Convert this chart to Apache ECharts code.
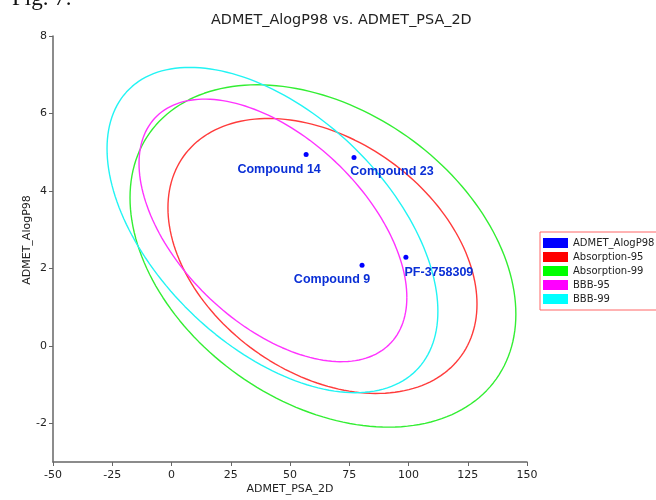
<!DOCTYPE html>
<html>
<head>
<meta charset="utf-8">
<script src="https://cdn.jsdelivr.net/npm/echarts@6/dist/echarts.min.js"></script>
<style>
  html, body { margin: 0; padding: 0; background: #fff; }
  #chart { width: 656px; height: 500px; }
</style>
</head>
<body>
<div id="chart"></div>
<script>
// compounds plotted (x = ADMET_PSA_2D, y = ADMET_AlogP98)
var compoundNames = ['Compound 14', 'Compound 23', 'Compound 9', 'PF-3758309'];
var compoundPSA = [56.8, 77.0, 80.4, 98.9];
var compoundAlogP = [4.94, 4.86, 2.08, 2.29];

// confidence ellipses: centre, half extent on each axis, correlation
var ellipseNames = ['Absorption-95', 'Absorption-99', 'BBB-95', 'BBB-99'];
var ellipseCx = [63.7, 63.9, 42.8, 42.6];
var ellipseCy = [2.32, 2.32, 2.98, 2.99];
var ellipseRx = [65.2, 81.4, 56.5, 69.8];
var ellipseRy = [3.55, 4.42, 3.39, 4.20];
var ellipseRho = [-0.35, -0.34, -0.51, -0.50];

var yTicks = [-2, 0, 2, 4, 6, 8];

// styles
var legendColors = ['#ff0000', '#00ff00', '#ff00ff', '#00ffff'];
var lineColors = ['#ff3b3b', '#33ee33', '#ff33ff', '#22f4f4'];
var labelOffsets = {
    'Compound 14': [-27, 1],
    'Compound 23': [38, 0],
    'Compound 9': [-30, 0],
    'PF-3758309': [33, 1]
};

// outline of an ellipse in data units
function ellipseOutline(i) {
    var pts = [];
    var n = 180;
    var rho = ellipseRho[i];
    var s = Math.sqrt(1 - rho * rho);
    for (var k = 0; k <= n; k++) {
        var t = 2 * Math.PI * k / n;
        pts.push([
            ellipseCx[i] + ellipseRx[i] * Math.cos(t),
            ellipseCy[i] + ellipseRy[i] * (rho * Math.cos(t) + s * Math.sin(t))
        ]);
    }
    return pts;
}

var series = [{
    name: 'ADMET_AlogP98',
    type: 'scatter',
    symbolSize: 5,
    itemStyle: { color: '#0000ff', opacity: 1 },
    data: compoundNames.map(function (nm, i) {
        return {
            name: nm,
            value: [compoundPSA[i], compoundAlogP[i]],
            label: { offset: labelOffsets[nm] }
        };
    }),
    label: {
        show: true,
        position: 'bottom',
        formatter: '{b}',
        color: '#0a2fd6',
        fontFamily: 'Liberation Sans, Arial, sans-serif',
        fontWeight: 'bold',
        fontSize: 12.5
    },
    z: 5
}];

ellipseNames.forEach(function (nm, i) {
    series.push({
        name: nm,
        type: 'line',
        data: ellipseOutline(i),
        showSymbol: false,
        symbol: 'none',
        smooth: false,
        silent: true,
        itemStyle: { color: legendColors[i] },
        lineStyle: { color: lineColors[i], width: 1.4 }
    });
});

var option = {
    animation: false,
    backgroundColor: '#ffffff',
    textStyle: { fontFamily: 'DejaVu Sans, sans-serif' },
    title: {
        text: 'ADMET_AlogP98 vs. ADMET_PSA_2D',
        left: 206,
        top: 8,
        textStyle: { fontSize: 14.4, fontWeight: 'normal', color: '#222', fontFamily: 'DejaVu Sans, sans-serif' }
    },
    graphic: [{
        type: 'text',
        left: 12,
        top: -13,
        style: { text: 'Fig. 7.', font: '23px "Liberation Serif", serif', fill: '#111' }
    }],
    legend: {
        orient: 'vertical',
        left: 540,
        top: 232,
        padding: [6, 4, 6, 3],
        itemWidth: 25,
        itemHeight: 10,
        itemGap: 4,
        icon: 'rect',
        borderColor: '#ff6666',
        borderWidth: 1,
        borderRadius: 0,
        textStyle: { fontSize: 10, color: '#222', fontFamily: 'DejaVu Sans, sans-serif' },
        data: ['ADMET_AlogP98'].concat(ellipseNames)
    },
    grid: { left: 53, right: 129, top: 36, bottom: 36, containLabel: false },
    xAxis: {
        type: 'value',
        min: -50,
        max: 150,
        interval: 25,
        name: 'ADMET_PSA_2D',
        nameLocation: 'middle',
        nameGap: 22,
        nameMoveOverlap: false,
        nameTextStyle: { fontSize: 11, color: '#222' },
        axisLine: { onZero: false, lineStyle: { color: '#666', width: 1.5 } },
        axisTick: { length: 4, lineStyle: { color: '#666' } },
        axisLabel: { fontSize: 11, color: '#222', margin: 8 },
        splitLine: { show: false }
    },
    yAxis: {
        type: 'value',
        min: -3,
        max: 8,
        name: 'ADMET_AlogP98',
        nameLocation: 'middle',
        nameGap: 20,
        nameMoveOverlap: false,
        nameTextStyle: { fontSize: 11, color: '#222', padding: [0, 0, 0, 18] },
        axisLine: { show: true, onZero: false, lineStyle: { color: '#666', width: 1.5 } },
        axisTick: { show: true, length: 4, customValues: yTicks, lineStyle: { color: '#666' } },
        axisLabel: { fontSize: 11, color: '#222', margin: 6, customValues: yTicks },
        splitLine: { show: false }
    },
    series: series
};

var myChart = echarts.init(document.getElementById('chart'));
myChart.setOption(option);
</script>
</body>
</html>
